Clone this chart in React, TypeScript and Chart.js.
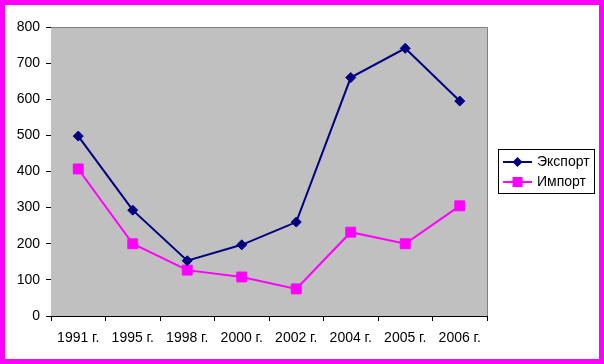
import React, { useEffect, useRef } from "react";
import { Chart, registerables } from "chart.js";

Chart.register(...registerables);

const categories = ["1991 г.", "1995 г.", "1998 г.", "2000 г.", "2002 г.", "2004 г.", "2005 г.", "2006 г."];
const exportValues = [498, 293, 153, 197, 260, 660, 741, 595];
const importValues = [407, 200, 127, 108, 75, 232, 200, 305];
const seriesNames = ["Экспорт", "Импорт"];
const yMin = 0;
const yMax = 800;
const yStep = 100;

const FONT = "'Liberation Sans', Arial, sans-serif";
const FONT_SIZE = 14;

const plotBg = {
  id: "plotBg",
  beforeDatasetsDraw(chart: any) {
    const { ctx, chartArea: a } = chart;
    ctx.save();
    ctx.fillStyle = "#C0C0C0";
    ctx.fillRect(a.left, a.top, a.right - a.left, a.bottom - a.top);
    ctx.strokeStyle = "#808080";
    ctx.lineWidth = 1;
    ctx.beginPath();
    ctx.moveTo(a.left, Math.floor(a.top) + 0.5);
    ctx.lineTo(Math.floor(a.right) + 0.5, Math.floor(a.top) + 0.5);
    ctx.lineTo(Math.floor(a.right) + 0.5, a.bottom);
    ctx.stroke();
    ctx.restore();
  },
};

const customLegend = {
  id: "customLegend",
  afterDraw(chart: any) {
    const { ctx } = chart;
    ctx.save();
    const bx = 493, by = 144, bw = 96, bh = 44;
    ctx.fillStyle = "#FFFFFF";
    ctx.fillRect(bx, by, bw, bh);
    ctx.strokeStyle = "#000000";
    ctx.lineWidth = 1;
    ctx.strokeRect(bx + 0.5, by + 0.5, bw, bh);
    const items = [
      { name: seriesNames[0], color: "#000080", style: "diamond", y: 157 },
      { name: seriesNames[1], color: "#FF00FF", style: "square", y: 177 },
    ];
    items.forEach((it) => {
      ctx.strokeStyle = it.color;
      ctx.lineWidth = 2;
      ctx.beginPath();
      ctx.moveTo(498, it.y);
      ctx.lineTo(527, it.y);
      ctx.stroke();
      ctx.fillStyle = it.color;
      const cx = 512.5;
      if (it.style === "diamond") {
        ctx.beginPath();
        ctx.moveTo(cx, it.y - 5);
        ctx.lineTo(cx + 5, it.y);
        ctx.lineTo(cx, it.y + 5);
        ctx.lineTo(cx - 5, it.y);
        ctx.closePath();
        ctx.fill();
      } else {
        ctx.fillRect(cx - 5, it.y - 5, 10, 10);
      }
      ctx.fillStyle = "#000000";
      ctx.font = `${FONT_SIZE}px ${FONT}`;
      ctx.textBaseline = "middle";
      ctx.textAlign = "left";
      ctx.fillText(it.name, 532, it.y + 0.5);
    });
    ctx.restore();
  },
};

export default function App() {
  const ref = useRef<HTMLCanvasElement>(null);
  useEffect(() => {
    document.body.style.margin = "0";
    const chart = new Chart(ref.current!, {
      type: "line",
      data: {
        labels: categories,
        datasets: [
          {
            label: seriesNames[0],
            data: exportValues,
            borderColor: "#000080",
            backgroundColor: "#000080",
            borderWidth: 2,
            pointStyle: "rectRot",
            pointRadius: 5,
            pointBorderWidth: 1,
            tension: 0,
          },
          {
            label: seriesNames[1],
            data: importValues,
            borderColor: "#FF00FF",
            backgroundColor: "#FF00FF",
            borderWidth: 2,
            pointStyle: "rect",
            pointRadius: 7,
            pointBorderWidth: 1,
            tension: 0,
          },
        ],
      },
      options: {
        responsive: false,
        animation: false,
        layout: { padding: { left: 0, top: 22, right: 112, bottom: 0 } },
        plugins: { legend: { display: false }, tooltip: { enabled: false } },
        scales: {
          x: {
            offset: true,
            grid: { offset: true, drawOnChartArea: false, drawTicks: true, tickLength: 5, color: "#000" },
            border: { display: true, color: "#000", width: 1 },
            ticks: { color: "#000", font: { family: FONT, size: FONT_SIZE }, padding: 9, maxRotation: 0, autoSkip: false },
            afterFit: (s: any) => { s.height = 43; },
          },
          y: {
            min: yMin,
            max: yMax,
            grid: { drawOnChartArea: false, drawTicks: true, tickLength: 5, color: "#000" },
            border: { display: true, color: "#000", width: 1 },
            ticks: { stepSize: yStep, color: "#000", font: { family: FONT, size: FONT_SIZE }, padding: 6 },
            afterFit: (s: any) => { s.width = 46; },
          },
        },
      },
      plugins: [plotBg, customLegend],
    });
    return () => chart.destroy();
  }, []);
  return (
    <div
      style={{
        position: "absolute",
        left: 0,
        top: 0,
        width: 604,
        height: 364,
        boxSizing: "border-box",
        border: "5px solid #FF00FF",
        background: "#FFFFFF",
      }}
    >
      <canvas ref={ref} width={594} height={354} style={{ display: "block" }} />
    </div>
  );
}
